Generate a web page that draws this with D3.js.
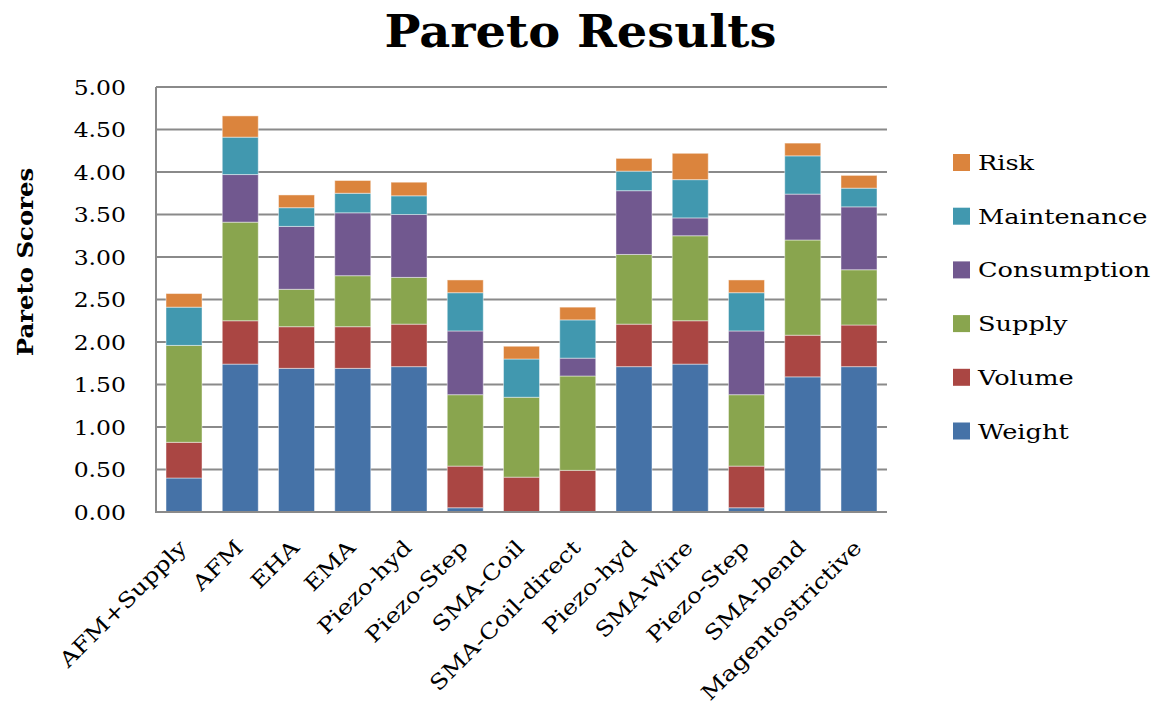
<!DOCTYPE html>
<html>
<head>
<meta charset="utf-8">
<script src="https://cdn.jsdelivr.net/npm/d3@7"></script>
<style>
  html, body { margin: 0; padding: 0; background: #fff; }
  svg { display: block; font-family: "DejaVu Serif", serif; }
</style>
</head>
<body>
<svg id="chart" width="1156" height="707"></svg>
<script>
// Actuator concepts along the x axis
const categories = [
  "AFM+Supply", "AFM", "EHA", "EMA", "Piezo-hyd", "Piezo-Step", "SMA-Coil",
  "SMA-Coil-direct", "Piezo-hyd", "SMA-Wire", "Piezo-Step", "SMA-bend", "Magentostrictive"
];

// Pareto score contributions per criterion (stacked bottom to top)
const weight      = [0.40, 1.74, 1.69, 1.69, 1.71, 0.05, 0.00, 0.00, 1.71, 1.74, 0.05, 1.59, 1.71];
const volume      = [0.42, 0.51, 0.49, 0.49, 0.50, 0.49, 0.41, 0.49, 0.50, 0.51, 0.49, 0.49, 0.49];
const supply      = [1.14, 1.16, 0.44, 0.60, 0.55, 0.84, 0.94, 1.11, 0.82, 1.00, 0.84, 1.12, 0.65];
const consumption = [0.00, 0.56, 0.74, 0.74, 0.74, 0.75, 0.00, 0.21, 0.75, 0.21, 0.75, 0.54, 0.74];
const maintenance = [0.45, 0.44, 0.22, 0.23, 0.22, 0.45, 0.45, 0.45, 0.23, 0.45, 0.45, 0.45, 0.22];
const risk        = [0.16, 0.25, 0.15, 0.15, 0.16, 0.15, 0.15, 0.15, 0.15, 0.31, 0.15, 0.15, 0.15];

const seriesNames = ["Weight", "Volume", "Supply", "Consumption", "Maintenance", "Risk"];
const seriesValues = [weight, volume, supply, consumption, maintenance, risk];
const seriesColors = ["#4572A7", "#AA4643", "#89A54E", "#71588F", "#4198AF", "#DB843D"];

const yTicks = [0, 0.5, 1, 1.5, 2, 2.5, 3, 3.5, 4, 4.5, 5];

// Rows for d3.stack: one object per category, keyed by series name
const rows = categories.map((c, i) => {
  const r = { idx: i, name: c };
  seriesNames.forEach((s, k) => { r[s] = seriesValues[k][i]; });
  return r;
});

const svg = d3.select("#chart");
const plot = { left: 156, right: 887, top: 87, bottom: 512 };
const axisColor = "#8a8a8a";

const x = d3.scaleBand()
  .domain(categories.map((_, i) => i))
  .range([plot.left, plot.right])
  .paddingInner(0.36)
  .paddingOuter(0.178);

const y = d3.scaleLinear().domain([0, 5]).range([plot.bottom, plot.top]);

const color = d3.scaleOrdinal().domain(seriesNames).range(seriesColors);

// Title
svg.append("text")
  .attr("transform", "translate(580.5,47) scale(1.09,1)")
  .attr("text-anchor", "middle")
  .attr("font-size", 44)
  .attr("font-weight", "bold")
  .attr("fill", "#000")
  .text("Pareto Results");

// Horizontal gridlines
svg.append("g")
  .selectAll("line")
  .data(yTicks.filter(t => t > 0))
  .join("line")
  .attr("x1", plot.left).attr("x2", plot.right)
  .attr("y1", d => y(d)).attr("y2", d => y(d))
  .attr("stroke", axisColor)
  .attr("stroke-width", 2);

// Y axis: tick labels
const yAxis = svg.append("g")
  .attr("transform", `translate(${plot.left},0)`)
  .call(d3.axisLeft(y).tickValues(yTicks).tickSize(0).tickPadding(30).tickFormat(d3.format(".2f")));
yAxis.select(".domain").remove();
yAxis.selectAll("text")
  .attr("font-family", "DejaVu Serif, serif")
  .attr("font-size", 21)
  .attr("fill", "#000")
  .attr("dy", "0.35em")
  .attr("x", null)
  .attr("transform", "translate(-30,0) scale(1.12,1)");

// Y axis title
svg.append("text")
  .attr("transform", "translate(33,262) rotate(-90) scale(1.06,1)")
  .attr("text-anchor", "middle")
  .attr("font-size", 23)
  .attr("font-weight", "bold")
  .attr("fill", "#000")
  .text("Pareto Scores");

// Stacked bars
const stacked = d3.stack().keys(seriesNames)(rows);
svg.append("g")
  .selectAll("g")
  .data(stacked)
  .join("g")
  .attr("fill", d => color(d.key))
  .selectAll("rect")
  .data(d => d.filter(p => p[1] - p[0] > 0))
  .join("rect")
  .attr("x", d => x(d.data.idx))
  .attr("width", x.bandwidth())
  .attr("y", d => y(d[1]))
  .attr("height", d => y(d[0]) - y(d[1]))
  .attr("stroke", "rgba(255,255,255,0.45)")
  .attr("stroke-width", 1);

// Axis lines (left and bottom)
svg.append("line")
  .attr("x1", plot.left).attr("x2", plot.left)
  .attr("y1", plot.top).attr("y2", plot.bottom + 1)
  .attr("stroke", axisColor).attr("stroke-width", 2);
svg.append("line")
  .attr("x1", plot.left - 1).attr("x2", plot.right)
  .attr("y1", plot.bottom).attr("y2", plot.bottom)
  .attr("stroke", axisColor).attr("stroke-width", 2);

// Rotated category labels
svg.append("g")
  .selectAll("text")
  .data(categories)
  .join("text")
  .attr("transform", (d, i) =>
    `translate(${x(i) + x.bandwidth() / 2 + 4},549) rotate(-45) scale(1.19,1)`)
  .attr("text-anchor", "end")
  .attr("font-size", 21)
  .attr("fill", "#000")
  .text(d => d);

// Legend, listed top-down from the last stacked series
const legendOrder = seriesNames.slice().reverse();
const legend = svg.append("g")
  .selectAll("g")
  .data(legendOrder)
  .join("g")
  .attr("transform", (d, i) => `translate(953,${162.5 + i * 53.7})`);
legend.append("rect")
  .attr("x", 0).attr("y", -8.5)
  .attr("width", 17).attr("height", 17)
  .attr("fill", d => color(d));
legend.append("text")
  .attr("transform", "translate(25,7.5) scale(1.22,1)")
  .attr("font-size", 21)
  .attr("fill", "#000")
  .text(d => d);
</script>
</body>
</html>
